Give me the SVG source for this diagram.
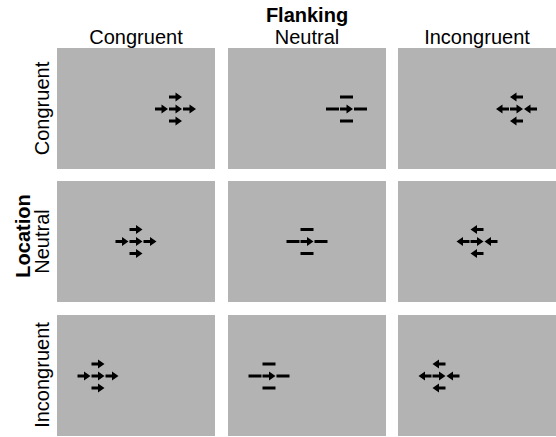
<svg xmlns="http://www.w3.org/2000/svg" xmlns:xlink="http://www.w3.org/1999/xlink" width="556" height="437" viewBox="0 0 556 437">
<style>
.panel{fill:#b3b3b3}
.lab{font-family:"Liberation Sans",Arial,Helvetica,sans-serif;font-size:20px;fill:#000}
.ttl{font-family:"Liberation Sans",Arial,Helvetica,sans-serif;font-size:20px;font-weight:bold;fill:#000}
</style>
<defs>
<path id="ar" d="M-6.5,-1.5 H0 V-4.5 L6.5,0 L0,4.5 V1.5 H-6.5 Z"/>
<path id="al" d="M6.5,-1.5 H0 V-4.5 L-6.5,0 L0,4.5 V1.5 H6.5 Z"/>
<rect id="bar" x="-6.5" y="-1.5" width="13" height="3"/>
<g id="cong">
<use xlink:href="#ar" x="-14" y="0"/><use xlink:href="#ar" x="0" y="0"/><use xlink:href="#ar" x="14" y="0"/>
<use xlink:href="#ar" x="0" y="-12"/><use xlink:href="#ar" x="0" y="12"/>
</g>
<g id="neut">
<use xlink:href="#bar" x="-14" y="0"/><use xlink:href="#ar" x="0" y="0"/><use xlink:href="#bar" x="14" y="0"/>
<use xlink:href="#bar" x="0" y="-12"/><use xlink:href="#bar" x="0" y="12"/>
</g>
<g id="inc">
<use xlink:href="#al" x="-14" y="0"/><use xlink:href="#ar" x="0" y="0"/><use xlink:href="#al" x="14" y="0"/>
<use xlink:href="#al" x="0" y="-12"/><use xlink:href="#al" x="0" y="12"/>
</g>
</defs>
<g id="headers">
<text class="ttl" x="307" y="22" text-anchor="middle">Flanking</text>
<text class="lab" x="136" y="44" text-anchor="middle">Congruent</text>
<text class="lab" x="307" y="44" text-anchor="middle">Neutral</text>
<text class="lab" x="477" y="44" text-anchor="middle">Incongruent</text>
<text class="ttl" transform="translate(30,236) rotate(-90)" text-anchor="middle">Location</text>
<text class="lab" transform="translate(49,108.5) rotate(-90)" text-anchor="middle">Congruent</text>
<text class="lab" transform="translate(49,241.5) rotate(-90)" text-anchor="middle">Neutral</text>
<text class="lab" transform="translate(49,375) rotate(-90)" text-anchor="middle">Incongruent</text>
</g>
<g id="r1c1"><rect class="panel" x="57" y="48" width="158" height="121"/><use xlink:href="#cong" x="175.5" y="109"/></g>
<g id="r1c2"><rect class="panel" x="228" y="48" width="158" height="121"/><use xlink:href="#neut" x="346.5" y="109"/></g>
<g id="r1c3"><rect class="panel" x="398" y="48" width="158" height="121"/><use xlink:href="#inc" x="516.5" y="109"/></g>
<g id="r2c1"><rect class="panel" x="57" y="181" width="158" height="121"/><use xlink:href="#cong" x="136" y="241.5"/></g>
<g id="r2c2"><rect class="panel" x="228" y="181" width="158" height="121"/><use xlink:href="#neut" x="307" y="241.5"/></g>
<g id="r2c3"><rect class="panel" x="398" y="181" width="158" height="121"/><use xlink:href="#inc" x="477" y="241.5"/></g>
<g id="r3c1"><rect class="panel" x="57" y="315" width="158" height="121"/><use xlink:href="#cong" x="98" y="376"/></g>
<g id="r3c2"><rect class="panel" x="228" y="315" width="158" height="121"/><use xlink:href="#neut" x="269" y="376"/></g>
<g id="r3c3"><rect class="panel" x="398" y="315" width="158" height="121"/><use xlink:href="#inc" x="439" y="376"/></g>
<g id="connectors"/>
</svg>
